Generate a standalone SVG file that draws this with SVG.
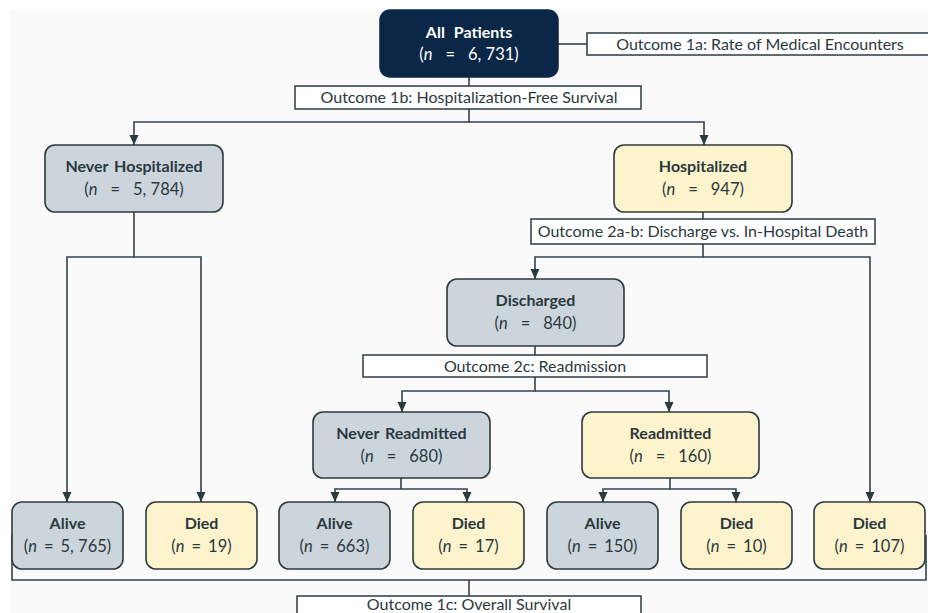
<svg xmlns="http://www.w3.org/2000/svg" width="928" height="613" viewBox="0 0 928 613">
<defs>
<marker id="arr" markerUnits="userSpaceOnUse" markerWidth="10" markerHeight="10" viewBox="0 0 10 10" refX="10" refY="5" orient="auto">
<path d="M0,0.5 L10,5 L0,9.5 Z" fill="#2b3a3e"/>
</marker>
<style>
.c{fill:none;stroke:#34434a;stroke-width:1.6}
.g{fill:#ccd4dc;stroke:#2e3a3e;stroke-width:1.6}
.y{fill:#fdf3cc;stroke:#2e3a3e;stroke-width:1.6}
.o{fill:#ffffff;stroke:#2e3a3e;stroke-width:1.5}
text{font-family:Lato,"Liberation Sans",sans-serif;text-anchor:middle;fill:#2b393e}
.t{font-weight:bold;font-size:16px;word-spacing:2px}
.n{font-size:16.5px}
.l{font-size:16px}
.i{font-style:italic}
.w{fill:#ffffff}
</style>
</defs>
<rect x="10" y="10" width="918" height="603" fill="#fafafa"/>
<g id="connectors">
<path class="c" d="M558,44 H587"/>
<path class="c" d="M469,77 V86"/>
<path class="c" d="M469,109 V122 H134 V145" marker-end="url(#arr)"/>
<path class="c" d="M469,122 H704 V145" marker-end="url(#arr)"/>
<path class="c" d="M134,212 V257 H67 V502" marker-end="url(#arr)"/>
<path class="c" d="M134,257 H201 V502" marker-end="url(#arr)"/>
<path class="c" d="M703,212 V219"/>
<path class="c" d="M703,244 V257 H535 V279" marker-end="url(#arr)"/>
<path class="c" d="M703,257 H870 V502" marker-end="url(#arr)"/>
<path class="c" d="M535,346 V355"/>
<path class="c" d="M535,377 V391 H402 V412" marker-end="url(#arr)"/>
<path class="c" d="M535,391 H669 V412" marker-end="url(#arr)"/>
<path class="c" d="M401,478 V489 H335 V502" marker-end="url(#arr)"/>
<path class="c" d="M401,489 H467 V502" marker-end="url(#arr)"/>
<path class="c" d="M670,478 V489 H603 V502" marker-end="url(#arr)"/>
<path class="c" d="M670,489 H736 V502" marker-end="url(#arr)"/>
<path class="c" d="M12,535 V580 H926 V535"/>
<path class="c" d="M469,580 V596"/>
</g>
<g id="all-patients">
<rect x="380" y="10" width="178" height="67" rx="10" fill="#0b2748" stroke="#0b2748" stroke-width="1.5"/>
<text class="t w" x="469" y="38" style="word-spacing:5px">All Patients</text>
<text class="n w" x="469" y="60">(<tspan class="i">n</tspan><tspan dx="13">=</tspan><tspan dx="13">6, 731)</tspan></text>
</g>
<g id="outcome-1a">
<rect class="o" x="587" y="33" width="345" height="22"/>
<text class="l" x="760" y="49.5">Outcome 1a: Rate of Medical Encounters</text>
</g>
<g id="outcome-1b">
<rect class="o" x="295" y="86" width="346" height="23"/>
<text class="l" x="469" y="103">Outcome 1b: Hospitalization-Free Survival</text>
</g>
<g id="never-hospitalized">
<rect class="g" x="45" y="145" width="178" height="67" rx="10"/>
<text class="t" x="134" y="171.5">Never Hospitalized</text>
<text class="n" x="134" y="194.5">(<tspan class="i">n</tspan><tspan dx="13">=</tspan><tspan dx="13">5, 784)</tspan></text>
</g>
<g id="hospitalized">
<rect class="y" x="614" y="145" width="178" height="67" rx="10"/>
<text class="t" x="703" y="171.5">Hospitalized</text>
<text class="n" x="703" y="194.5">(<tspan class="i">n</tspan><tspan dx="13">=</tspan><tspan dx="13">947)</tspan></text>
</g>
<g id="outcome-2ab">
<rect class="o" x="531" y="219" width="344" height="25"/>
<text class="l" x="703" y="237">Outcome 2a-b: Discharge vs. In-Hospital Death</text>
</g>
<g id="discharged">
<rect class="g" x="447" y="279" width="177" height="67" rx="10"/>
<text class="t" x="535.5" y="305.5">Discharged</text>
<text class="n" x="535.5" y="328.5">(<tspan class="i">n</tspan><tspan dx="13">=</tspan><tspan dx="13">840)</tspan></text>
</g>
<g id="outcome-2c">
<rect class="o" x="363" y="355" width="344" height="22"/>
<text class="l" x="535" y="371.5">Outcome 2c: Readmission</text>
</g>
<g id="never-readmitted">
<rect class="g" x="313" y="412" width="177" height="66" rx="10"/>
<text class="t" x="401.5" y="438.5">Never Readmitted</text>
<text class="n" x="401.5" y="461.5">(<tspan class="i">n</tspan><tspan dx="13">=</tspan><tspan dx="13">680)</tspan></text>
</g>
<g id="readmitted">
<rect class="y" x="582" y="412" width="177" height="66" rx="10"/>
<text class="t" x="670.5" y="438.5">Readmitted</text>
<text class="n" x="670.5" y="461.5">(<tspan class="i">n</tspan><tspan dx="13">=</tspan><tspan dx="13">160)</tspan></text>
</g>
<g id="alive-never-hosp">
<rect class="g" x="12" y="502" width="111" height="67" rx="10"/>
<text class="t" x="67.5" y="528.5">Alive</text>
<text class="n" x="67.5" y="551.5">(<tspan class="i">n</tspan><tspan dx="7">=</tspan><tspan dx="7">5, 765)</tspan></text>
</g>
<g id="died-never-hosp">
<rect class="y" x="146" y="502" width="111" height="67" rx="10"/>
<text class="t" x="201.5" y="528.5">Died</text>
<text class="n" x="201.5" y="551.5">(<tspan class="i">n</tspan><tspan dx="7">=</tspan><tspan dx="7">19)</tspan></text>
</g>
<g id="alive-never-readm">
<rect class="g" x="279" y="502" width="111" height="67" rx="10"/>
<text class="t" x="334.5" y="528.5">Alive</text>
<text class="n" x="334.5" y="551.5">(<tspan class="i">n</tspan><tspan dx="7">=</tspan><tspan dx="7">663)</tspan></text>
</g>
<g id="died-never-readm">
<rect class="y" x="413" y="502" width="111" height="67" rx="10"/>
<text class="t" x="468.5" y="528.5">Died</text>
<text class="n" x="468.5" y="551.5">(<tspan class="i">n</tspan><tspan dx="7">=</tspan><tspan dx="7">17)</tspan></text>
</g>
<g id="alive-readm">
<rect class="g" x="547" y="502" width="111" height="67" rx="10"/>
<text class="t" x="602.5" y="528.5">Alive</text>
<text class="n" x="602.5" y="551.5">(<tspan class="i">n</tspan><tspan dx="7">=</tspan><tspan dx="7">150)</tspan></text>
</g>
<g id="died-readm">
<rect class="y" x="681" y="502" width="111" height="67" rx="10"/>
<text class="t" x="736.5" y="528.5">Died</text>
<text class="n" x="736.5" y="551.5">(<tspan class="i">n</tspan><tspan dx="7">=</tspan><tspan dx="7">10)</tspan></text>
</g>
<g id="died-in-hospital">
<rect class="y" x="814" y="502" width="111" height="67" rx="10"/>
<text class="t" x="869.5" y="528.5">Died</text>
<text class="n" x="869.5" y="551.5">(<tspan class="i">n</tspan><tspan dx="7">=</tspan><tspan dx="7">107)</tspan></text>
</g>
<g id="outcome-1c">
<rect class="o" x="297" y="596" width="344" height="30"/>
<text class="l" x="469" y="610">Outcome 1c: Overall Survival</text>
</g>
</svg>
